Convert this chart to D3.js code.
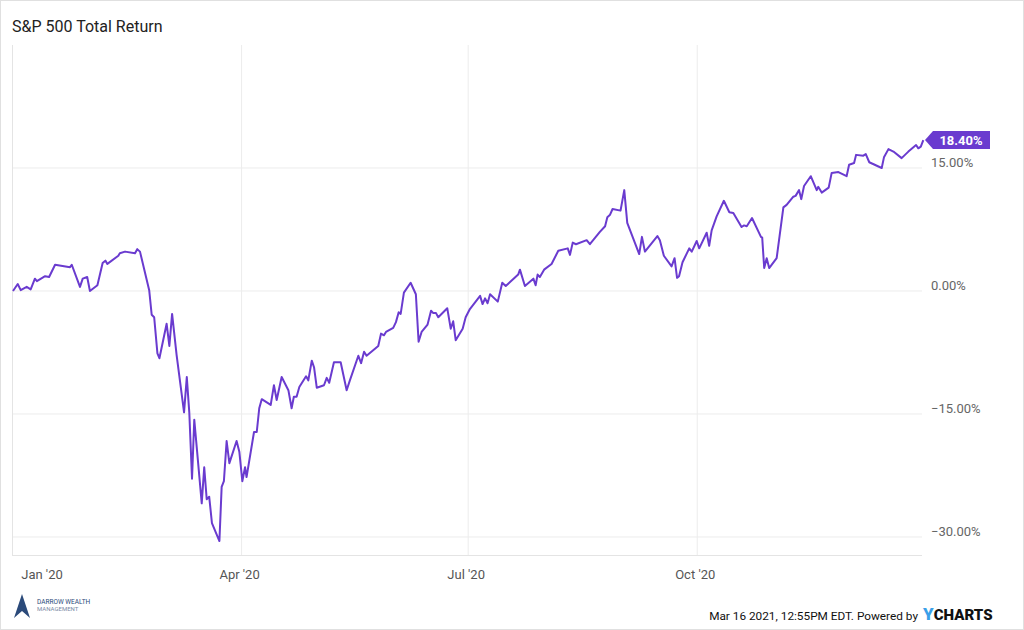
<!DOCTYPE html>
<html><head><meta charset="utf-8">
<script src="https://cdn.jsdelivr.net/npm/d3@7"></script>
<style>body{margin:0;background:#fff;font-family:Roboto,sans-serif}</style>
</head><body><svg id="c" width="1024" height="630"></svg>
<script>
const days=[0,1.9,3.1,5.5,7.1,8.8,9.6,12.9,14.5,16.9,22.9,23.6,26.9,28,29.8,30.9,33.9,36,37.1,37.9,42.3,42.9,45,49,49.9,51,54.7,55.7,56.7,58,58.8,61.7,62.8,63.9,65.7,68.7,69.8,70.8,71.9,72.8,75.8,76.8,77.8,78.8,79.9,82.9,83.8,84.7,85.8,86.9,89.8,90.9,92.1,93.2,93.8,96.8,97.9,98.9,99.9,103.5,104.8,105.9,107.9,110.6,111.9,112.8,113.9,115,117.7,118.6,120,120.9,122,124.9,126,127,128.9,131.6,134,135.3,138.7,139.8,141,142,146.7,147.8,149,149.8,152.7,153.8,154.9,155.7,157,159.7,161.8,162.9,164.1,166.5,167.9,168.8,169.9,170.8,174.4,175.8,176.8,177.8,180.6,181.8,183.5,187.6,188.6,189.6,190.6,191.6,194.7,196.5,197.9,202.9,203.6,205.6,209,209.9,210.7,211.6,213.3,216.3,219,222.8,223.7,224.8,226.1,230.4,231.7,235.7,237.8,238.7,239.8,240.8,244,245.5,246.7,251.5,252.6,253.8,258.8,259.8,261.4,264.5,265.7,266.7,267.5,268.9,271.6,272.6,274.6,275.6,278.6,279.6,280.6,282.6,285.5,287.7,289.3,292.6,293.6,294.7,296.8,300.4,300.9,301.7,302.7,303.7,306.7,309.4,310.7,313.4,314.3,315.7,316.6,317.7,320.4,322.8,323.4,324.8,327.6,328.8,331.5,334.8,335.8,337.8,338.6,341.5,342.5,343.9,348.9,349.8,351.6,353.6,356.9,359.6,362.7,363.6,364.6,365.6];
const returns=[0,0.85,0.1,0.5,0.2,1.5,1.2,1.8,1.7,3.2,2.9,3.2,0.5,1.5,1.7,0,0.7,3.4,3.7,3.3,4.3,4.6,4.8,4.6,5.1,4.8,0.1,-2.9,-3.2,-7.6,-8.2,-4.0,-6.7,-2.8,-7.8,-14.8,-10.5,-14.8,-22.9,-15.7,-25.9,-21.5,-25.4,-25.1,-28.3,-30.5,-23.9,-23.2,-18.3,-21.0,-18.3,-19.6,-23.2,-21.5,-22.7,-17.2,-17.2,-14.3,-13.2,-13.9,-11.5,-13.3,-10.5,-12.1,-14.3,-12.9,-12.9,-11.7,-10.4,-10.9,-8.5,-9.3,-11.8,-11.5,-10.6,-11.2,-8.7,-8.7,-12.1,-10.9,-7.9,-8.8,-7.4,-7.9,-6.7,-5.2,-5.4,-5.0,-4.5,-3.8,-2.6,-2.8,-0.2,1.0,-0.4,-6.2,-5.0,-4.1,-2.4,-2.7,-2.7,-3.2,-2.1,-4.6,-3.7,-6.0,-4.6,-3.2,-2.2,-0.6,-1.6,-0.9,-1.5,-0.4,-1.3,1.0,0.6,2.0,2.6,0.6,1.5,0.7,2.0,1.7,2.6,3.3,4.9,5.2,4.4,5.9,5.7,6.2,5.7,7.2,7.9,9.0,9.3,10.0,9.8,12.3,8.3,4.5,6.6,4.8,6.7,6.2,4.3,3.0,4.0,1.6,1.8,3.5,5.2,4.8,6.1,5.2,7.1,5.5,7.4,9.1,11.0,9.6,9.5,7.8,8.0,7.9,8.9,6.6,6.5,2.8,4.0,2.8,4.0,10.2,10.5,11.5,11.6,12.3,11.2,12.8,14.0,12.3,12.7,12.0,12.6,14.4,14.5,14.0,15.4,15.6,16.6,16.5,16.7,15.7,15.0,16.3,17.3,17.0,16.2,17.0,17.8,17.4,17.6,18.4];
const yTicks=[15,0,-15,-30];
const xTickDates=["2020-01-01","2020-04-01","2020-07-01","2020-10-01"];
const xTickLabels=["Jan '20","Apr '20","Jul '20","Oct '20"];

const svg=d3.select("#c");
const L=12,R=922,T=45,B=555;
const start=new Date(2020,0,1);
const toDate=d=>new Date(start.getTime()+d*86400000);
const x=d3.scaleTime().domain([start,toDate(365.6)]).range([13,923.3]);
const y=d3.scaleLinear().domain([-32.2,30]).range([B,T]);
svg.append("rect").attr("x",0.5).attr("y",0.5).attr("width",1023).attr("height",629).attr("fill","none").attr("stroke","#e0e0e0");
svg.append("text").attr("x",12).attr("y",32).attr("font-size",16).attr("fill","#222").text("S&P 500 Total Return");
const g=svg.append("g");
yTicks.forEach(v=>{
  g.append("line").attr("x1",L).attr("x2",R).attr("y1",y(v)).attr("y2",y(v)).attr("stroke","#ececec");
  g.append("text").attr("x",931).attr("y",y(v)-6).attr("dy","0.35em").attr("font-size",13).attr("fill","#666").text(d3.format(".2f")(v)+"%");
});
xTickDates.forEach((s,i)=>{
  const d=new Date(s+"T00:00:00");
  const px=x(d)+2;
  if(i>0) g.append("line").attr("x1",px).attr("x2",px).attr("y1",T).attr("y2",B).attr("stroke","#ececec");
  g.append("text").attr("x",i===0?42:px-2).attr("y",579).attr("text-anchor","middle").attr("font-size",13).attr("fill","#555").text(xTickLabels[i]);
});
g.append("line").attr("x1",L+0.5).attr("x2",L+0.5).attr("y1",T).attr("y2",B).attr("stroke","#e4e4e4");
g.append("line").attr("x1",L).attr("x2",R).attr("y1",B+0.5).attr("y2",B+0.5).attr("stroke","#e4e4e4");
const pts=days.map((d,i)=>[toDate(d),returns[i]]);
g.append("path").attr("d",d3.line().x(p=>x(p[0])).y(p=>y(p[1]))(pts)).attr("fill","none").attr("stroke","#6a3bcf").attr("stroke-width",2).attr("stroke-linejoin","round");
const last=pts[pts.length-1], ly=y(last[1]);
svg.append("path").attr("d",`M925,${ly} L933,${ly-9} L990,${ly-9} L990,${ly+9} L933,${ly+9} Z`).attr("fill","#6a3bcf");
svg.append("text").attr("x",961).attr("y",ly).attr("dy","0.36em").attr("text-anchor","middle").attr("font-size",13).attr("font-weight","bold").attr("fill","#fff").text(d3.format(".2f")(last[1])+"%");
// footer
svg.append("path").attr("d","M14,618 L22,594 L30,618 L22,611 Z").attr("fill","#2b4a7a");
svg.append("text").attr("x",37).attr("y",604).attr("font-size",6.5).attr("fill","#2b4a7a").text("DARROW WEALTH");
svg.append("text").attr("x",37).attr("y",611).attr("font-size",6).attr("fill","#7a8aa5").text("MANAGEMENT");
svg.append("text").attr("x",918).attr("y",620).attr("text-anchor","end").attr("font-size",11.8).attr("fill","#111").text("Mar 16 2021, 12:55PM EDT. Powered by");
const yc=svg.append("text").attr("x",923).attr("y",620).attr("font-weight","900");
yc.append("tspan").attr("font-size",17).attr("fill","#3aa0e8").text("Y");
yc.append("tspan").attr("font-size",15).attr("fill","#111").text("CHARTS");
</script></body></html>
